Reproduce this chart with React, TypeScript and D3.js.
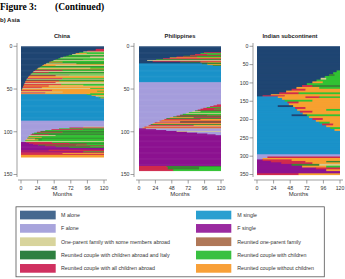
import React from "react";
import * as d3 from "d3";

// ---------- data ----------
const monthTicks = [0, 24, 48, 72, 96, 120];

const stateKeys = ["a", "f", "k", "d", "r", "s", "p", "b", "g", "o"];
const stateLabels = [
  "M alone",
  "F alone",
  "One-parent family with some members abroad",
  "Reunited couple with children abroad and Italy",
  "Reunited couple with all children abroad",
  "M single",
  "F single",
  "Reunited one-parent family",
  "Reunited couple with children",
  "Reunited couple without children",
];

// each row group: [number of sequences, "state endMonth ..."]
const chinaRows: [number, string][] = [
  [3, "a120"], [2, "a108 r120"], [1, "a96 r120"], [1, "a90 k120"], [1, "a84 g120"],
  [1, "a79 o95 g120"], [1, "a74 k120"], [1, "a69 g120"], [1, "a65 d120"], [1, "a61 g100 k120"],
  [1, "a57 k120"], [1, "a54 g120"], [1, "a50 d90 g120"], [1, "a47 k120"], [1, "a44 g120"],
  [1, "a41 o60 g120"], [1, "a38 d120"], [1, "a36 k80 g120"], [1, "a33 o120"], [1, "a31 o50 k120"],
  [1, "a29 d120"], [1, "a27 g120"], [1, "a25 k100 g120"], [1, "a23 o120"], [1, "a21 d120"],
  [1, "a20 r60 g120"], [1, "a18 k120"], [1, "a17 r40 d120"], [1, "a16 g120"], [1, "a14 k120"],
  [1, "a13 d70 g120"], [1, "a12 r50 k120"], [1, "a11 o120"], [1, "a10 o120"], [1, "a9 r60 g120"],
  [1, "a8 k120"], [1, "a8 d120"], [1, "a7 r55 g120"], [1, "a6 o120"], [1, "a6 r50 k120"],
  [1, "a5 k120"], [1, "a4 r58 g120"], [1, "a4 o90 g120"], [1, "a3 r40 k120"], [1, "a3 o120"],
  [1, "a2 r30 o120"], [1, "a2 k100 g120"], [1, "a1 o120"], [1, "a1 r45 o120"], [1, "o110 g120"],
  [1, "k60 o120"], [1, "r35 o120"], [1, "o100 g120"], [1, "s95 g120"], [1, "s102 o120"],
  [1, "s108 k120"], [1, "s112 g120"], [1, "s115 o120"], [26, "s120"], [7, "f120"],
  [1, "f90 k120"], [1, "f70 r120"], [1, "f55 g120"], [1, "f44 r90 d120"], [1, "f35 g120"],
  [1, "f28 d120"], [1, "f23 r60 d120"], [1, "f19 g120"], [1, "f16 d120"], [1, "f14 r40 d120"],
  [1, "f12 k50 g120"], [1, "f11 g120"], [1, "f10 o30 g120"], [1, "f9 d120"], [1, "f8 k20 g120"],
  [1, "f7 o25 d30 g120"], [1, "f6 g120"], [1, "f5 k120"], [1, "p8 r45 g120"], [1, "p12 r70 d120"],
  [1, "p18 r95 g120"], [1, "p25 d80 g120"], [1, "p35 r120"], [1, "p50 d100 g120"], [1, "p70 d120"],
  [2, "p120"], [1, "p40 r120"], [1, "r120"], [1, "p90 g120"], [1, "r120"],
  [1, "r60 o120"], [1, "r120"], [3, "o120"],
];

const philippinesRows: [number, string][] = [
  [7, "a120"], [1, "a95 r120"], [1, "a90 g120"], [1, "a82 r100 g120"], [1, "a75 r120"],
  [1, "a65 d120"], [1, "a55 r85 g120"], [1, "a45 o120"], [1, "a35 r120"], [1, "a25 d120"],
  [1, "a12 k120"], [1, "a20 r120"], [1, "a60 d90 o120"], [1, "a100 d120"], [1, "s92 d120"],
  [1, "s100 o120"], [1, "s108 d120"], [19, "s120"], [26, "f120"], [1, "f114 r120"],
  [1, "f109 r120"], [1, "f104 r120"], [1, "f99 g120"], [1, "f94 r120"], [1, "f90 r110 g120"],
  [1, "f86 r120"], [1, "f82 d120"], [1, "f78 k90 g120"], [1, "f73 g120"], [1, "f69 k120"],
  [1, "f64 g120"], [1, "f60 d100 g120"], [1, "f55 r120"], [1, "f50 d120"], [1, "f45 o80 r120"],
  [1, "f40 d120"], [1, "f37 r90 o120"], [1, "f33 o120"], [1, "f30 r120"], [1, "f27 k60 d120"],
  [1, "f23 r120"], [1, "f20 o120"], [1, "f17 d120"], [1, "f14 r80 o120"], [1, "f11 k120"],
  [1, "f8 r120"], [1, "f5 o120"], [1, "p10 f120"], [1, "p25 f120"], [1, "p40 f120"],
  [1, "p55 k120"], [1, "p70 f120"], [1, "p85 f120"], [1, "p100 f120"], [1, "p112 f120"],
  [36, "p120"], [1, "r40 d120"], [3, "r42 d88 g120"], [2, "r50 g120"],
];

const indiaRows: [number, string][] = [
  [66, "a120"], [5, "a115 g120"], [5, "a110 g120"], [5, "a104 d112 g120"], [5, "a98 g120"],
  [5, "a92 k100 g120"], [5, "a86 g120"], [5, "a80 o95 g120"], [5, "a72 g120"], [5, "a65 r80 d120"],
  [5, "a57 o90 g120"], [5, "a50 r70 o120"], [5, "a42 o120"], [5, "a32 r60 g120"], [3, "a20 o120"],
  [3, "a8 r40 o120"], [4, "s30 o70 r90 g120"], [5, "s36 o120"], [5, "s40 g80 o120"], [5, "s44 r60 o120"],
  [5, "s46 o120"], [5, "s30 a52 o120"], [5, "s55 r70 o120"], [5, "s58 o100 g120"], [5, "s62 r80 o120"],
  [5, "s66 o120"], [5, "s50 a72 g120"], [5, "s75 o120"], [5, "s80 r95 o120"], [5, "s85 o120"],
  [5, "s90 g105 o120"], [5, "s94 r110 o120"], [5, "s100 o120"], [5, "s106 g120"], [5, "s112 o120"],
  [64, "s120"], [6, "f120"], [4, "f15 r120"], [4, "f8 o120"], [4, "p8 r50 o120"],
  [4, "p20 r70 o100 d120"], [4, "p35 r80 o120"], [5, "p50 d90 k120"], [5, "p65 o100 g120"], [5, "p85 r120"],
  [5, "p100 o120"], [6, "p120"], [4, "r60 o120"],
];

const chinaTicks = [0, 50, 100, 150];
const philippinesTicks = [0, 50, 100, 150];
const indiaTicks = [0, 50, 100, 150, 200, 250, 300, 350];

// ---------- styles ----------
const panelColors: Record<string, string> = {
  a: "#1f4572", f: "#a59ddc", k: "#d3cc92", d: "#3a8734", r: "#d02a4c",
  s: "#1a92c9", p: "#8c1290", b: "#b07252", g: "#31c232", o: "#f7a030",
};
const legendColors: Record<string, string> = {
  a: "#46698f", f: "#a8a4dc", k: "#d8d49c", d: "#2e8040", r: "#d03060",
  s: "#2a9fd0", p: "#9a2aa0", b: "#b07858", g: "#38c040", o: "#f8a038",
};

const FONT = "'Liberation Sans', Arial, sans-serif";

type Panel = {
  title: string;
  titleX: number;
  rows: [number, string][];
  ticks: number[];
  yMax: number;
  x0: number;
  x1: number;
  axisX: number;
};

const panels: Panel[] = [
  { title: "China", titleX: 62, rows: chinaRows, ticks: chinaTicks, yMax: 150, x0: 21, x1: 104, axisX: 17 },
  { title: "Philippines", titleX: 180, rows: philippinesRows, ticks: philippinesTicks, yMax: 150, x0: 139, x1: 221, axisX: 134 },
  { title: "Indian subcontinent", titleX: 290, rows: indiaRows, ticks: indiaTicks, yMax: 350, x0: 257, x1: 340, axisX: 253 },
];

function expand(rows: [number, string][]) {
  const out: { s: string; from: number; to: number }[][] = [];
  rows.forEach(([n, spec]) => {
    const segs: { s: string; from: number; to: number }[] = [];
    let prev = 0;
    spec.split(" ").forEach((tok) => {
      const s = tok[0];
      const end = +tok.slice(1);
      segs.push({ s, from: prev, to: end });
      prev = end;
    });
    for (let i = 0; i < n; i++) out.push(segs);
  });
  return out;
}

function PanelView({ p }: { p: Panel }) {
  const x = d3.scaleLinear().domain([0, 120]).range([p.x0, p.x1]);
  const y = d3.scaleLinear().domain([0, p.yMax]).range([46.3, 174.5]);
  const seqs = expand(p.rows);
  const axisY = 180;
  const n = seqs.length;
  return (
    <g>
      <text x={p.titleX} y={38} textAnchor="middle" fontFamily={FONT} fontSize={5.8} fontWeight="bold" fill="#222">
        {p.title}
      </text>
      {seqs.map((segs, i) =>
        segs.map((sg, j) => (
          <rect
            key={i + "-" + j}
            x={x(sg.from)}
            y={y(i)}
            width={x(sg.to) - x(sg.from) + (sg.to < 120 ? 0.3 : 0)}
            height={y(i + 1) - y(i) + (i < n - 1 ? 0.6 : 0)}
            fill={panelColors[sg.s]}
          />
        ))
      )}
      {/* y axis */}
      <line x1={p.axisX} x2={p.axisX} y1={43} y2={177} stroke="#777" strokeWidth={0.7} />
      {p.ticks.map((t) => (
        <g key={t}>
          <line x1={p.axisX - 3.5} x2={p.axisX} y1={y(t)} y2={y(t)} stroke="#777" strokeWidth={0.7} />
          <text x={p.axisX - 4.5} y={y(t) + 1.8} textAnchor="end" fontFamily={FONT} fontSize={5.2} fill="#333">
            {t}
          </text>
        </g>
      ))}
      {/* x axis */}
      <line x1={p.x0 - 3} x2={p.x1 + 3} y1={axisY} y2={axisY} stroke="#777" strokeWidth={0.7} />
      {monthTicks.map((m) => (
        <g key={m}>
          <line x1={x(m)} x2={x(m)} y1={axisY} y2={axisY + 3.5} stroke="#777" strokeWidth={0.7} />
          <text x={x(m)} y={axisY + 9.5} textAnchor="middle" fontFamily={FONT} fontSize={5.2} fill="#333">
            {m}
          </text>
        </g>
      ))}
      <text x={(p.x0 + p.x1) / 2} y={axisY + 16} textAnchor="middle" fontFamily={FONT} fontSize={6} fill="#333">
        Months
      </text>
    </g>
  );
}

export default function App() {
  const legendLeft = stateKeys.slice(0, 5);
  const legendRight = stateKeys.slice(5);
  return (
    <svg
      width={345}
      height={279}
      style={{ position: "absolute", left: 0, top: 0, background: "#fff" }}
    >
      <rect x={0} y={0} width={345} height={279} fill="#fff" />
      <text x={0} y={9.5} fontFamily="'Liberation Serif', 'Times New Roman', serif" fontSize={9.5} fontWeight="bold" fill="#000">
        Figure 3:
      </text>
      <text x={55} y={9.5} fontFamily="'Liberation Serif', 'Times New Roman', serif" fontSize={9.5} fontWeight="bold" fill="#000">
        (Continued)
      </text>
      <text x={0} y={21.7} fontFamily={FONT} fontSize={6} fontWeight="bold" fill="#111">
        b) Asia
      </text>
      {panels.map((p) => (
        <PanelView key={p.title} p={p} />
      ))}
      {/* legend */}
      <rect x={16} y={206.8} width={308.3} height={70} fill="#fff" stroke="#555" strokeWidth={0.8} />
      {legendLeft.map((k, i) => (
        <g key={k}>
          <rect x={20} y={210.7 + i * 13.33} width={35.7} height={8.7} fill={legendColors[k]} />
          <text x={61} y={217 + i * 13.33} fontFamily={FONT} fontSize={5.3} fill="#333">
            {stateLabels[stateKeys.indexOf(k)]}
          </text>
        </g>
      ))}
      {legendRight.map((k, i) => (
        <g key={k}>
          <rect x={196} y={210.7 + i * 13.33} width={35.3} height={8.7} fill={legendColors[k]} />
          <text x={237.3} y={217 + i * 13.33} fontFamily={FONT} fontSize={5.3} fill="#333">
            {stateLabels[stateKeys.indexOf(k)]}
          </text>
        </g>
      ))}
    </svg>
  );
}
